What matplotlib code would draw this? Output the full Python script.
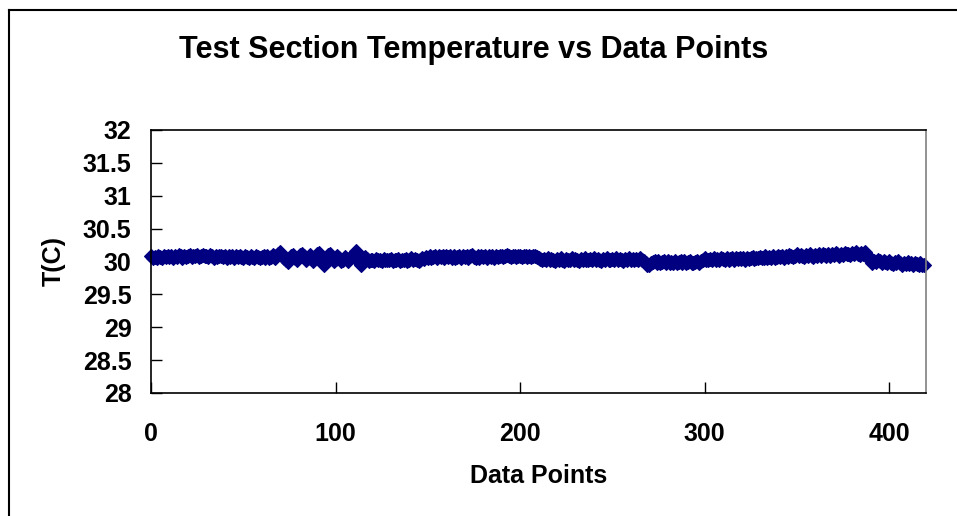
import matplotlib
matplotlib.use("Agg")
import matplotlib.pyplot as plt
import numpy as np

plt.rcParams['font.family'] = ['Liberation Sans', 'DejaVu Sans']

# temperature readings, one per data point
temps = [
    30.08, 30.05, 30.07, 30.06, 30.08, 30.07, 30.06, 30.08, 30.07, 30.09,
    30.07, 30.08, 30.06, 30.09, 30.07, 30.10, 30.08, 30.06, 30.09, 30.07,
    30.08, 30.10, 30.07, 30.09, 30.08, 30.10, 30.07, 30.09, 30.10, 30.08,
    30.09, 30.07, 30.10, 30.08, 30.06, 30.08, 30.07, 30.09, 30.08, 30.07,
    30.08, 30.06, 30.09, 30.07, 30.08, 30.06, 30.08, 30.07, 30.09, 30.07,
    30.06, 30.08, 30.07, 30.05, 30.08, 30.07, 30.06, 30.09, 30.07, 30.05,
    30.07, 30.09, 30.06, 30.08, 30.05, 30.07, 30.10, 30.06, 30.09, 30.12,
    30.14, 30.10, 30.06, 30.02, 29.99, 30.04, 30.08, 30.10, 30.05, 30.02,
    30.07, 30.10, 30.12, 30.08, 30.03, 30.06, 30.10, 30.05, 30.00, 30.06,
    30.11, 30.13, 30.08, 29.98, 29.95, 30.02, 30.10, 30.12, 30.06, 30.00,
    30.04, 30.08, 30.05, 30.00, 30.03, 30.07, 30.04, 30.01, 30.05, 30.09,
    30.12, 30.16, 30.10, 29.98, 29.95, 30.02, 30.07, 30.04, 30.00, 30.03,
    30.03, 30.01, 30.04, 30.02, 30.03, 30.01, 30.04, 30.02, 30.03, 30.02,
    30.04, 30.01, 30.03, 30.02, 30.04, 30.01, 30.03, 30.02, 30.04, 30.01,
    30.03, 30.05, 30.02, 30.04, 30.03, 30.00, 30.03, 30.05, 30.04, 30.07,
    30.05, 30.08, 30.06, 30.07, 30.09, 30.06, 30.08, 30.07, 30.09, 30.06,
    30.08, 30.07, 30.09, 30.06, 30.08, 30.05, 30.07, 30.09, 30.06, 30.08,
    30.07, 30.09, 30.06, 30.08, 30.10, 30.07, 30.05, 30.08, 30.06, 30.09,
    30.07, 30.08, 30.06, 30.09, 30.07, 30.08, 30.06, 30.09, 30.07, 30.08,
    30.09, 30.07, 30.08, 30.10, 30.08, 30.07, 30.09, 30.08, 30.07, 30.09,
    30.08, 30.07, 30.09, 30.08, 30.07, 30.08, 30.07, 30.09, 30.08, 30.07,
    30.05, 30.04, 30.02, 30.04, 30.03, 30.05, 30.02, 30.04, 30.03, 30.01,
    30.04, 30.02, 30.05, 30.03, 30.01, 30.04, 30.02, 30.03, 30.05, 30.02,
    30.04, 30.03, 30.01, 30.04, 30.02, 30.05, 30.03, 30.02, 30.04, 30.03,
    30.05, 30.02, 30.04, 30.03, 30.01, 30.04, 30.02, 30.05, 30.03, 30.02,
    30.04, 30.03, 30.05, 30.02, 30.04, 30.03, 30.01, 30.04, 30.03, 30.05,
    30.02, 30.04, 30.03, 30.04, 30.02, 30.05, 30.03, 30.00, 29.97, 29.95,
    29.94, 29.97, 29.99, 30.01, 29.98, 30.00, 29.97, 29.99, 30.01, 29.98,
    30.00, 29.97, 29.99, 29.98, 30.00, 29.97, 29.99, 30.01, 29.98, 30.00,
    29.97, 29.99, 30.00, 29.98, 29.97, 29.99, 30.01, 29.98, 30.00, 30.03,
    30.05, 30.03, 30.02, 30.04, 30.03, 30.05, 30.02, 30.04, 30.03, 30.05,
    30.04, 30.02, 30.05, 30.03, 30.04, 30.06, 30.03, 30.05, 30.04, 30.06,
    30.04, 30.05, 30.03, 30.06, 30.04, 30.05, 30.07, 30.04, 30.06, 30.05,
    30.07, 30.05, 30.06, 30.08, 30.05, 30.07, 30.06, 30.08, 30.06, 30.07,
    30.09, 30.07, 30.08, 30.06, 30.09, 30.07, 30.10, 30.08, 30.07, 30.09,
    30.11, 30.08, 30.10, 30.09, 30.07, 30.10, 30.08, 30.11, 30.09, 30.07,
    30.10, 30.08, 30.11, 30.09, 30.12, 30.10, 30.08, 30.11, 30.09, 30.12,
    30.10, 30.13, 30.11, 30.09, 30.12, 30.10, 30.13, 30.11, 30.12, 30.10,
    30.13, 30.11, 30.14, 30.12, 30.10, 30.13, 30.11, 30.14, 30.10, 30.05,
    30.00, 29.98, 30.01, 29.99, 30.02, 30.00, 29.98, 30.01, 29.99, 29.97,
    30.00, 29.98, 29.96, 29.99, 29.97, 30.00, 29.97, 29.95, 29.98, 29.96,
    29.99, 29.96, 29.98, 29.95, 29.97, 29.96, 29.94, 29.97, 29.95, 29.94,
]
points = np.arange(len(temps))

x_ticks = [0, 100, 200, 300, 400]
y_ticks = [28, 28.5, 29, 29.5, 30, 30.5, 31, 31.5, 32]
y_labels = ['28', '28.5', '29', '29.5', '30', '30.5', '31', '31.5', '32']

fig = plt.figure(figsize=(9.57, 5.16), dpi=100)
ax = fig.add_axes([0.1578, 0.2384, 0.8098, 0.5097])

ax.plot(points, temps, linestyle='none', marker='D', markersize=7.2,
        color='#000080', markeredgecolor='#000080', markeredgewidth=0.8,
        clip_on=False)

ax.set_xlim(0, 420)
ax.set_ylim(28, 32)
ax.set_xticks(x_ticks)
ax.set_yticks(y_ticks)
ax.set_yticklabels(y_labels)
ax.tick_params(direction='in', length=8, width=1, labelsize=18, colors='black')
ax.tick_params(axis='x', pad=21)
ax.tick_params(axis='y', pad=14)
for lab in ax.get_xticklabels() + ax.get_yticklabels():
    lab.set_fontweight('bold')

for s in ['left', 'bottom', 'top']:
    ax.spines[s].set_color('black')
    ax.spines[s].set_linewidth(1.2)
ax.spines['right'].set_color('#808080')
ax.spines['right'].set_linewidth(1.2)

ax.set_xlabel('Data Points', fontsize=18, fontweight='bold', labelpad=13)
ax.set_ylabel('T(C)', fontsize=18, fontweight='bold', labelpad=12)
fig.text(0.495, 1 - 50 / 516, 'Test Section Temperature vs Data Points',
         ha='center', va='center', fontsize=22, fontweight='bold')

# chart area border (only top and left fall inside the image)
fig.add_artist(plt.Line2D([8.5 / 957, 1], [1 - 9.5 / 516, 1 - 9.5 / 516],
                          transform=fig.transFigure, color='black', lw=1.5))
fig.add_artist(plt.Line2D([8.5 / 957, 8.5 / 957], [0, 1 - 9.5 / 516],
                          transform=fig.transFigure, color='black', lw=1.5))

fig.savefig('out.png', dpi=100)
